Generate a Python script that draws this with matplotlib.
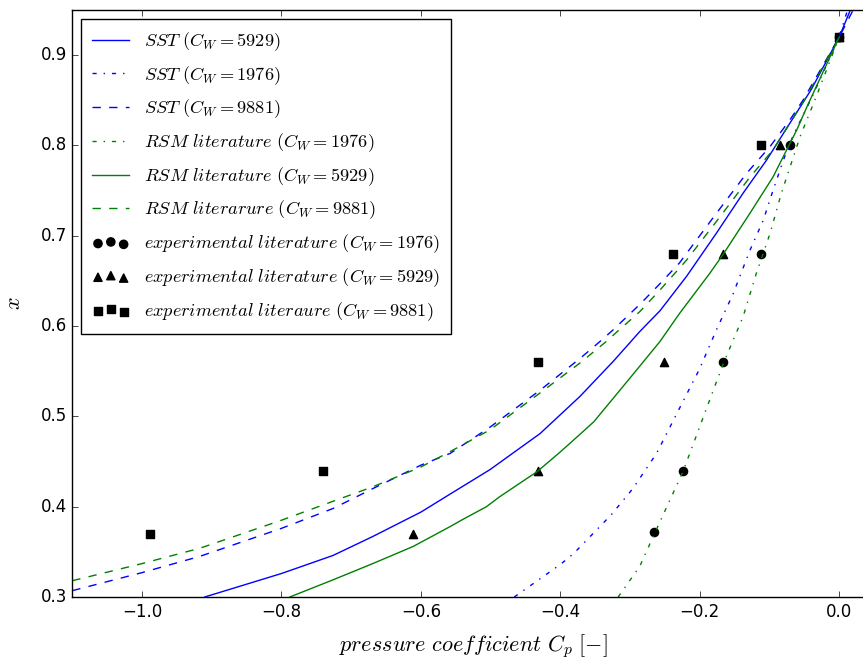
import matplotlib
matplotlib.use("Agg")
import matplotlib.pyplot as plt

plt.style.use('classic')
plt.rcParams['mathtext.fontset'] = 'cm'

# SST curves (pressure coefficient, x)
sst_5929_cp = [-0.910, -0.800, -0.726, -0.669, -0.600, -0.558, -0.501, -0.429, -0.372, -0.324, -0.286,
               -0.257, -0.219, -0.176, -0.138, -0.104, -0.068, -0.040, 0.0, 0.016]
sst_5929_x = [0.300, 0.326, 0.346, 0.367, 0.394, 0.414, 0.441, 0.481, 0.522, 0.561, 0.594,
              0.617, 0.655, 0.703, 0.747, 0.784, 0.828, 0.862, 0.920, 0.950]

sst_1976_cp = [-0.466, -0.400, -0.381, -0.327, -0.296, -0.262, -0.200, -0.176, -0.152, -0.128, -0.109,
               -0.095, -0.080, -0.066, -0.040, 0.0, 0.012]
sst_1976_x = [0.300, 0.336, 0.348, 0.391, 0.420, 0.459, 0.553, 0.596, 0.636, 0.684, 0.717,
              0.750, 0.784, 0.811, 0.852, 0.920, 0.950]

sst_9881_cp = [-1.100, -1.000, -0.917, -0.800, -0.726, -0.669, -0.600, -0.558, -0.501, -0.429, -0.372,
               -0.343, -0.324, -0.286, -0.257, -0.229, -0.176, -0.133, -0.099, -0.071, -0.052, 0.0, 0.020]
sst_9881_x = [0.307, 0.327, 0.345, 0.376, 0.398, 0.420, 0.446, 0.459, 0.488, 0.529, 0.564,
              0.583, 0.596, 0.624, 0.647, 0.670, 0.725, 0.769, 0.799, 0.828, 0.850, 0.920, 0.950]

# RSM literature curves
rsm_1976_cp = [-0.317, -0.286, -0.265, -0.224, -0.166, -0.138, -0.119, -0.099, -0.083, -0.068, -0.056,
               -0.035, 0.0]
rsm_1976_x = [0.300, 0.334, 0.370, 0.439, 0.559, 0.610, 0.658, 0.703, 0.747, 0.782, 0.810,
              0.850, 0.920]

rsm_5929_cp = [-0.788, -0.726, -0.669, -0.611, -0.558, -0.542, -0.506, -0.487, -0.433, -0.401, -0.372,
               -0.352, -0.322, -0.291, -0.257, -0.229, -0.186, -0.166, -0.128, -0.095, -0.061, -0.045, 0.0]
rsm_5929_x = [0.300, 0.319, 0.337, 0.356, 0.378, 0.385, 0.400, 0.411, 0.439, 0.460, 0.480,
              0.494, 0.522, 0.551, 0.583, 0.614, 0.658, 0.680, 0.725, 0.765, 0.817, 0.845, 0.920]

rsm_9881_cp = [-1.100, -1.000, -0.917, -0.800, -0.726, -0.669, -0.600, -0.558, -0.501, -0.429, -0.372,
               -0.334, -0.324, -0.286, -0.257, -0.219, -0.171, -0.128, -0.095, -0.050, 0.0]
rsm_9881_x = [0.318, 0.337, 0.354, 0.385, 0.406, 0.422, 0.444, 0.461, 0.485, 0.526, 0.559,
              0.583, 0.590, 0.616, 0.640, 0.673, 0.721, 0.765, 0.795, 0.850, 0.920]

# experimental literature points
exp_1976_cp = [0.0, -0.070, -0.112, -0.167, -0.2235, -0.265]
exp_1976_x = [0.92, 0.80, 0.68, 0.56, 0.44, 0.372]
exp_5929_cp = [0.0, -0.085, -0.167, -0.252, -0.4325, -0.611]
exp_5929_x = [0.92, 0.80, 0.68, 0.56, 0.44, 0.370]
exp_9881_cp = [0.0, -0.112, -0.238, -0.4325, -0.741, -0.989]
exp_9881_x = [0.92, 0.80, 0.68, 0.56, 0.44, 0.370]

fig = plt.figure(figsize=(8.63, 6.59), dpi=100, facecolor='white')
ax = fig.add_axes([0.0838, 0.0941, 0.929, 0.8907])

ax.plot(sst_5929_cp, sst_5929_x, 'b-', label=r'$SST\ (C_W=5929)$')
ax.plot(sst_1976_cp, sst_1976_x, 'b-.', label=r'$SST\ (C_W=1976)$')
ax.plot(sst_9881_cp, sst_9881_x, 'b--', label=r'$SST\ (C_W=9881)$')
ax.plot(rsm_1976_cp, rsm_1976_x, 'g-.', label=r'$RSM\ literature\ (C_W=1976)$')
ax.plot(rsm_5929_cp, rsm_5929_x, 'g-', label=r'$RSM\ literature\ (C_W=5929)$')
ax.plot(rsm_9881_cp, rsm_9881_x, 'g--', label=r'$RSM\ literarure\ (C_W=9881)$')
ax.scatter(exp_1976_cp, exp_1976_x, marker='o', s=35, c='k', label=r'$experimental\ literature\ (C_W=1976)$')
ax.scatter(exp_5929_cp, exp_5929_x, marker='^', s=35, c='k', label=r'$experimental\ literature\ (C_W=5929)$')
ax.scatter(exp_9881_cp, exp_9881_x, marker='s', s=35, c='k', label=r'$experimental\ literaure\ (C_W=9881)$')

ax.set_xlim(-1.1, 0.05)
ax.set_ylim(0.3, 0.95)
ax.set_xticks([-1.0, -0.8, -0.6, -0.4, -0.2, 0.0])
ax.set_yticks([0.3, 0.4, 0.5, 0.6, 0.7, 0.8, 0.9])
ax.set_xlabel(r'$pressure\ coefficient\ C_p\ [-]$', fontsize=16, labelpad=8)
ax.set_ylabel(r'$x$', fontsize=16, labelpad=12)

ax.legend(loc='upper left', fontsize=13.2, numpoints=1, scatterpoints=3,
          scatteryoffsets=[0.375, 0.5, 0.3125], handlelength=2.0,
          labelspacing=0.6, borderpad=0.6)

fig.savefig('out.png', dpi=100, facecolor='white')
